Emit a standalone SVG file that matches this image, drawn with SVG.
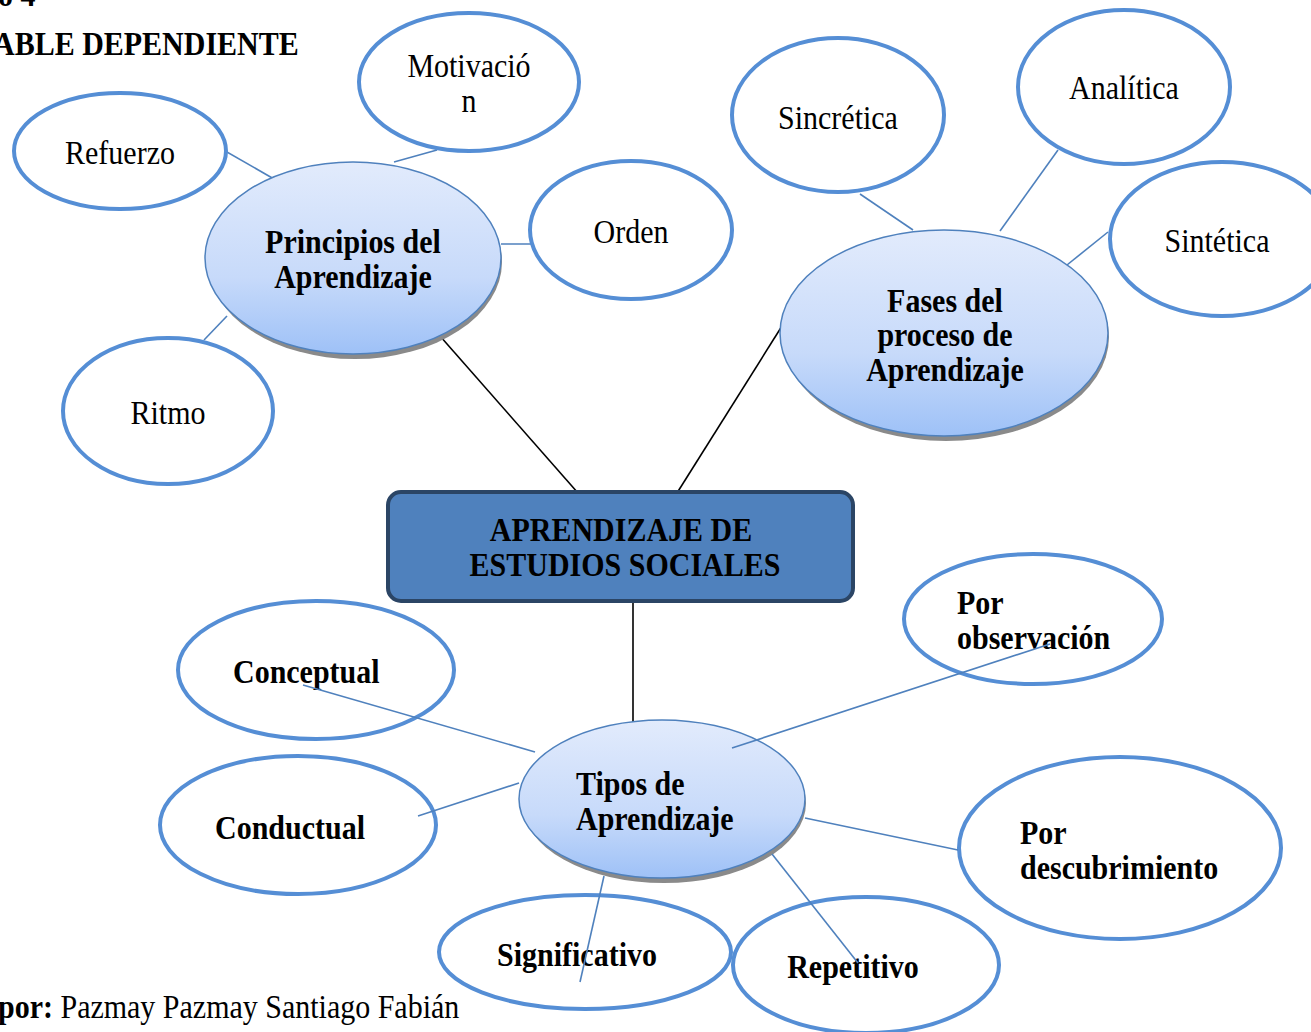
<svg xmlns="http://www.w3.org/2000/svg" width="1311" height="1032" viewBox="0 0 1311 1032">
  <style>
    .leaf { fill: #ffffff; stroke: #558ED5; stroke-width: 4; }
    .hub { fill: url(#hubFill); stroke: #4F81BD; stroke-width: 1.5; }
    .hubShadow { fill: #8a8a8a; }
    .t { font-family: "Liberation Serif", "Times New Roman", serif; font-size: 30px; fill: #000;
         transform-box: fill-box; transform-origin: center; transform: scaleY(1.1); }
    .b { font-weight: bold; }
    .c { text-anchor: middle; }
    .blue { stroke: #4F81BD; stroke-width: 1.6; fill: none; }
    .black { stroke: #000; stroke-width: 1.6; fill: none; }
  </style>
  <defs>
    <linearGradient id="hubFill" x1="0" y1="0" x2="0" y2="1">
      <stop offset="0" stop-color="#E2EBFC"/>
      <stop offset="0.6" stop-color="#C7DAFA"/>
      <stop offset="1" stop-color="#9EC1F7"/>
    </linearGradient>
  </defs>

  <rect width="1311" height="1032" fill="#ffffff"/>

  <!-- page heading -->
  <text class="t b" x="-2" y="5">o 4</text>
  <text class="t b" x="-7" y="54">ABLE DEPENDIENTE</text>

  <!-- connectors -->
  <g id="connectors">
    <line class="blue" x1="206" y1="140" x2="274" y2="179"/>
    <line class="blue" x1="394" y1="162" x2="437" y2="150"/>
    <line class="blue" x1="501" y1="244" x2="537" y2="244"/>
    <line class="blue" x1="204" y1="340" x2="227" y2="316"/>
    <line class="blue" x1="860" y1="194" x2="913" y2="230"/>
    <line class="blue" x1="1058" y1="150" x2="1000" y2="231"/>
    <line class="blue" x1="1108" y1="232" x2="1062" y2="269"/>
    <line class="black" x1="440" y1="336" x2="578" y2="493"/>
    <line class="black" x1="782" y1="326" x2="677" y2="493"/>
    <line class="black" x1="633" y1="602" x2="633" y2="733"/>
  </g>

  <!-- upper-left cluster -->
  <g id="refuerzo">
    <ellipse class="leaf" cx="120" cy="151" rx="106" ry="58"/>
    <text class="t c" x="120" y="163">Refuerzo</text>
  </g>
  <g id="motivacion">
    <ellipse class="leaf" cx="469" cy="82" rx="110" ry="69"/>
    <text class="t c" x="469" y="76">Motivació</text>
    <text class="t c" x="469" y="111">n</text>
  </g>
  <g id="orden">
    <ellipse class="leaf" cx="631" cy="230" rx="101" ry="69"/>
    <text class="t c" x="631" y="242">Orden</text>
  </g>
  <g id="ritmo">
    <ellipse class="leaf" cx="168" cy="411" rx="105" ry="73"/>
    <text class="t c" x="168" y="423">Ritmo</text>
  </g>
  <g id="principios">
    <ellipse class="hubShadow" cx="355" cy="262" rx="147" ry="97"/>
    <ellipse class="hub" cx="353" cy="258" rx="148" ry="96"/>
    <text class="t b c" x="353" y="252">Principios del</text>
    <text class="t b c" x="353" y="287">Aprendizaje</text>
  </g>

  <!-- upper-right cluster -->
  <g id="sincretica">
    <ellipse class="leaf" cx="838" cy="115" rx="106" ry="77"/>
    <text class="t c" x="838" y="128">Sincrética</text>
  </g>
  <g id="analitica">
    <ellipse class="leaf" cx="1124" cy="87" rx="106" ry="77"/>
    <text class="t c" x="1124" y="98">Analítica</text>
  </g>
  <g id="sintetica">
    <ellipse class="leaf" cx="1222" cy="239" rx="112" ry="77"/>
    <text class="t c" x="1217" y="251">Sintética</text>
  </g>
  <g id="fases">
    <ellipse class="hubShadow" cx="946" cy="337" rx="163" ry="104"/>
    <ellipse class="hub" cx="944" cy="333" rx="164" ry="103"/>
    <text class="t b c" x="945" y="311">Fases del</text>
    <text class="t b c" x="945" y="345">proceso de</text>
    <text class="t b c" x="945" y="380">Aprendizaje</text>
  </g>

  <!-- central topic -->
  <g id="centro">
    <rect x="388" y="492" width="465" height="109" rx="13" fill="#4F81BD" stroke="#2B4565" stroke-width="4"/>
    <text class="t b c" x="621" y="540">APRENDIZAJE DE</text>
    <text class="t b c" x="625" y="575">ESTUDIOS SOCIALES</text>
  </g>

  <!-- lower cluster: hub first, then leaves on top -->
  <g id="tipos">
    <ellipse class="hubShadow" cx="664" cy="803" rx="142" ry="80"/>
    <ellipse class="hub" cx="662" cy="799" rx="143" ry="79"/>
    <text class="t b" x="576" y="794">Tipos de</text>
    <text class="t b" x="576" y="829">Aprendizaje</text>
  </g>
  <g id="conceptual">
    <ellipse class="leaf" cx="316" cy="670" rx="138" ry="69"/>
    <text class="t b" x="233" y="682">Conceptual</text>
  </g>
  <g id="conductual">
    <ellipse class="leaf" cx="298" cy="825" rx="138" ry="69"/>
    <text class="t b c" x="290" y="838">Conductual</text>
  </g>
  <g id="significativo">
    <ellipse class="leaf" cx="585" cy="952" rx="146" ry="57"/>
    <text class="t b c" x="577" y="965">Significativo</text>
  </g>
  <g id="repetitivo">
    <ellipse class="leaf" cx="866" cy="965" rx="133" ry="68"/>
    <text class="t b c" x="853" y="977">Repetitivo</text>
  </g>
  <g id="observacion">
    <ellipse class="leaf" cx="1033" cy="619" rx="129" ry="65"/>
    <text class="t b" x="957" y="613">Por</text>
    <text class="t b" x="957" y="648">observación</text>
  </g>
  <g id="descubrimiento">
    <ellipse class="leaf" cx="1120" cy="848" rx="161" ry="91"/>
    <text class="t b" x="1020" y="843">Por</text>
    <text class="t b" x="1020" y="878">descubrimiento</text>
  </g>

  <!-- lower connectors drawn over the leaves -->
  <g id="connectors-lower">
    <line class="blue" x1="303" y1="685" x2="535" y2="752"/>
    <line class="blue" x1="418" y1="816" x2="519" y2="783"/>
    <line class="blue" x1="732" y1="748" x2="1050" y2="644"/>
    <line class="blue" x1="805" y1="818" x2="958" y2="850"/>
    <line class="blue" x1="604" y1="876" x2="580" y2="982"/>
    <line class="blue" x1="772" y1="854" x2="858" y2="963"/>
  </g>

  <!-- credit line -->
  <text class="t" x="-2" y="1017"><tspan class="b">por:</tspan> Pazmay Pazmay Santiago Fabián</text>
</svg>
